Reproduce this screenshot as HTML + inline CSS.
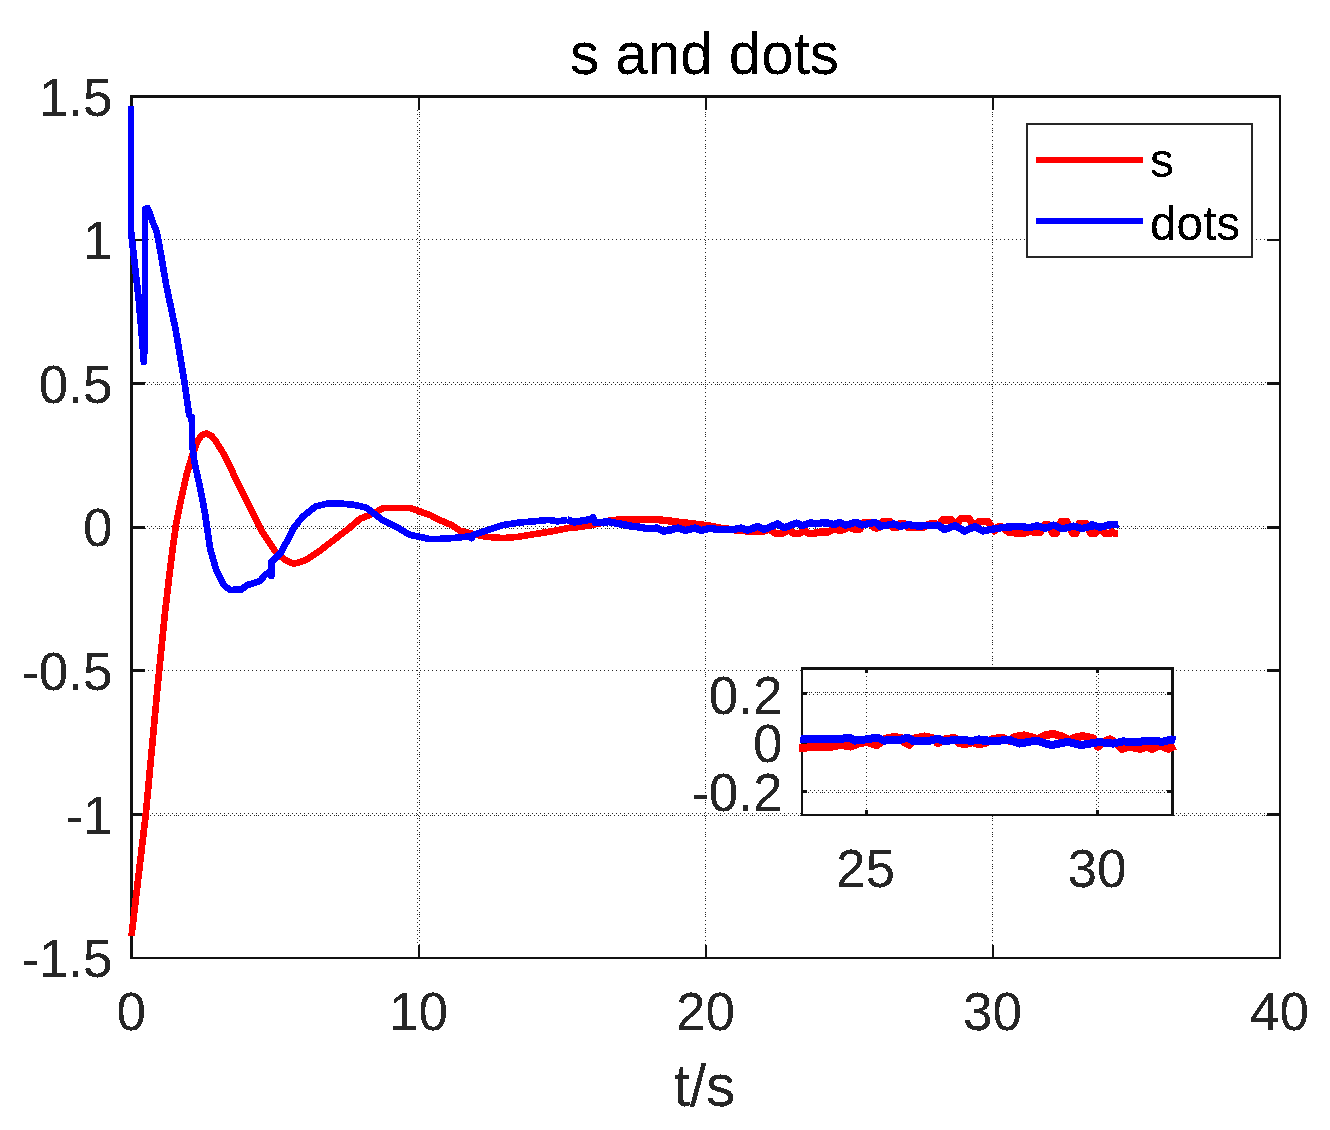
<!DOCTYPE html>
<html lang="en"><head><meta charset="utf-8"><title>s and dots</title>
<style>
html,body{margin:0;padding:0;background:#fff;}
body{width:1330px;height:1130px;overflow:hidden;}
svg{display:block;}
text{font-family:"Liberation Sans",sans-serif;fill:#262626;filter:url(#bin);}
.tk{font-size:53px;}
.big{font-size:58.3px;}
.lg{font-size:47.7px;fill:#000;}
.grid line{stroke:#262626;stroke-width:1;stroke-dasharray:1 3;shape-rendering:crispEdges;}
.crisp{shape-rendering:crispEdges;}
</style></head><body>
<svg width="1330" height="1130" viewBox="0 0 1330 1130">
<rect x="0" y="0" width="1330" height="1130" fill="#fff"/>
<defs><filter id="bin" x="-5%" y="-20%" width="110%" height="140%" color-interpolation-filters="sRGB"><feComponentTransfer><feFuncA type="discrete" tableValues="0 0 0 0 0 0 0 1 1 1 1 1 1 1 1 1"/></feComponentTransfer></filter></defs>
<g class="grid">
<line x1="419.5" y1="114" x2="419.5" y2="945" style="stroke-dasharray:1 15"/>
<line x1="705.5" y1="114" x2="705.5" y2="945" style="stroke-dasharray:1 15"/>
<line x1="992.5" y1="114" x2="992.5" y2="945" style="stroke-dasharray:1 15"/>
<line x1="157" y1="384.5" x2="1267" y2="384.5" style="stroke-dasharray:1 15"/>
<line x1="159" y1="528.5" x2="1267" y2="528.5" style="stroke-dasharray:1 15"/>
<line x1="160" y1="815.5" x2="1267" y2="815.5" style="stroke-dasharray:1 15"/>
<line x1="417.5" y1="110" x2="417.5" y2="945"/>
<line x1="419.5" y1="112" x2="419.5" y2="945"/>
<line x1="705.5" y1="112" x2="705.5" y2="945"/>
<line x1="992.5" y1="112" x2="992.5" y2="945"/>
<line x1="148" y1="239.5" x2="1267" y2="239.5"/>
<line x1="145" y1="382.5" x2="1267" y2="382.5"/>
<line x1="147" y1="384.5" x2="1267" y2="384.5"/>
<line x1="147" y1="526.5" x2="1267" y2="526.5"/>
<line x1="145" y1="528.5" x2="1267" y2="528.5"/>
<line x1="148" y1="670.5" x2="1267" y2="670.5"/>
<line x1="148" y1="813.5" x2="1267" y2="813.5"/>
<line x1="146" y1="815.5" x2="1267" y2="815.5"/>
</g>
<g class="crisp" fill="none" stroke="#111111" stroke-width="2.67" stroke-linecap="butt">
<rect x="131.80" y="96.50" width="1148.20" height="861.50"/>
<path d="M418.85 958.00V945.00M418.85 96.50V109.50M705.90 958.00V945.00M705.90 96.50V109.50M992.95 958.00V945.00M992.95 96.50V109.50M131.80 240.08H144.80M1280.00 240.08H1267.00M131.80 383.67H144.80M1280.00 383.67H1267.00M131.80 527.25H144.80M1280.00 527.25H1267.00M131.80 670.83H144.80M1280.00 670.83H1267.00M131.80 814.42H144.80M1280.00 814.42H1267.00"/>
</g>
<text class="tk" x="112.5" y="115.6" text-anchor="end">1.5</text>
<text class="tk" x="112.5" y="259.2" text-anchor="end">1</text>
<text class="tk" x="112.5" y="402.8" text-anchor="end">0.5</text>
<text class="tk" x="112.5" y="546.4" text-anchor="end">0</text>
<text class="tk" x="112.5" y="689.9" text-anchor="end">-0.5</text>
<text class="tk" x="112.5" y="833.5" text-anchor="end">-1</text>
<text class="tk" x="112.5" y="977.1" text-anchor="end">-1.5</text>
<text class="tk" x="131.3" y="1030" text-anchor="middle">0</text>
<text class="tk" x="418.4" y="1030" text-anchor="middle">10</text>
<text class="tk" x="705.4" y="1030" text-anchor="middle">20</text>
<text class="tk" x="992.5" y="1030" text-anchor="middle">30</text>
<text class="tk" x="1279.5" y="1030" text-anchor="middle">40</text>
<text class="big" x="704.5" y="73.5" text-anchor="middle" style="fill:#000">s and dots</text>
<text class="big" x="704.5" y="1105.5" text-anchor="middle">t/s</text>
<g class="crisp" fill="none" stroke-linejoin="round" stroke-linecap="butt">
<polyline stroke="#ff0000" stroke-width="6.67" points="131.5,936.0 138.5,876.0 145.7,815.0 152.5,742.0 158.0,682.5 161.3,650.0 165.0,612.5 168.8,580.0 172.5,550.0 176.3,522.5 181.5,497.5 186.5,475.0 192.3,455.0 198.0,440.0 202.0,435.0 206.3,433.5 211.0,435.5 215.0,440.0 225.0,456.0 237.5,482.5 250.0,507.5 262.5,532.5 275.0,551.0 285.0,560.0 293.8,563.8 305.0,560.5 317.5,552.5 332.5,541.0 350.0,527.5 360.0,518.8 372.5,513.8 383.8,508.0 410.0,508.0 430.0,515.0 441.3,520.8 450.7,524.6 460.1,530.6 473.2,534.0 486.4,536.8 503.3,538.1 518.3,536.8 535.3,534.0 552.2,531.2 569.1,528.0"/>
<polyline stroke="#ff0000" stroke-width="7.3" points="569.1,528.0 587.9,525.5 610.5,520.8 623.6,519.3 651.8,519.3 670.6,520.8 670.0,521.6 675.0,521.8 691.5,523.6 708.0,525.7 719.6,528.0 739.5,530.5 754.4,531.5 761.8,531.5 769.3,529.4 775.5,533.3 782.8,533.3 788.3,529.7 793.7,533.3 799.4,533.3 803.7,530.5 808.6,533.3 814.3,533.3 819.7,532.0 828.0,532.0 832.9,529.4 837.9,529.9 842.9,529.9 848.7,527.2 854.9,529.2 859.9,529.2 863.2,522.9 869.8,522.9 874.8,527.9 878.1,527.9 882.6,521.6 890.0,521.6 892.9,527.6 896.5,527.6 900.2,523.6 904.5,523.6 907.8,527.6 912.3,527.6 915.6,527.1 923.3,527.1 930.5,523.6 935.4,523.6 938.7,525.6 942.5,519.9 951.5,519.9 956.1,525.1 960.7,518.6 969.0,518.6 974.3,526.7 978.9,521.6 987.9,521.6 994.1,531.0 998.3,526.7 1003.2,527.2 1008.2,532.0 1012.3,532.0 1016.0,533.3 1024.3,533.3 1029.7,531.4 1034.7,532.3 1040.1,532.3 1044.6,524.6 1047.9,524.6 1052.9,533.3 1056.2,533.3 1061.1,521.6 1066.9,521.6 1072.7,533.3 1076.0,533.3 1079.3,523.3 1086.0,523.3 1090.9,533.3 1095.1,533.3 1100.0,528.4 1102.3,529.7 1104.8,533.3 1110.3,533.3 1112.4,532.0 1114.4,533.3 1118.4,533.3"/>
<polyline stroke="#0000ff" stroke-width="6.67" points="131.0,106.0 131.0,231.0 134.5,262.0 138.8,300.0 142.0,338.0 143.8,362.0 144.9,338.0 144.9,209.0 147.5,208.0 150.0,214.0 153.5,224.0 156.5,231.0 160.6,252.0 166.0,284.0 175.7,330.0 184.7,383.4 189.2,415.5 191.8,417.0 192.1,444.0 194.4,462.0 200.4,489.0 205.0,513.5 210.0,548.0 216.3,570.5 223.8,585.0 230.0,590.0 241.3,589.5 247.5,585.0 260.0,581.0 265.0,575.0 270.5,571.0 271.3,576.0 271.3,562.0 281.0,552.5 287.6,540.0 294.0,527.5 302.5,517.0 315.5,506.5 327.5,503.5 340.0,503.5 355.0,505.0 366.0,507.5 382.5,520.0 395.0,526.0 410.0,535.0 425.0,538.0 430.0,539.1 445.0,538.7 460.1,537.4 470.4,536.2 471.7,538.1 473.6,534.9 486.4,530.6 503.3,525.0 518.3,522.7 535.3,521.2 548.4,519.9 557.8,521.4 567.2,519.9"/>
<polyline stroke="#0000ff" stroke-width="7.3" points="567.2,519.9 574.7,522.1 590.7,519.3 592.8,517.8 595.4,522.7 608.6,521.8 623.6,524.6 633.0,526.5 642.4,527.4 646.2,528.7 657.4,528.0 663.1,531.2 672.5,529.8 670.0,529.7 678.3,528.0 684.9,530.5 694.8,528.0 701.4,530.5 709.7,528.4 719.6,529.7 732.9,529.7 741.1,528.0 747.8,530.2 757.7,526.4 764.3,529.4 777.5,523.9 784.1,527.7 796.6,523.1 802.3,525.6 810.6,522.8 815.6,523.9 822.2,522.8 828.8,523.1 833.8,524.7 839.6,522.3 845.4,525.1 856.1,522.3 861.9,525.1 875.1,522.3 880.1,525.6 880.0,526.4 894.1,523.9 899.9,526.4 908.9,524.7 918.0,526.1 928.0,525.6 937.9,525.1 944.5,529.5 955.3,525.6 964.4,531.2 975.1,526.4 982.6,531.0 994.1,528.9 1005.7,527.2 1020.6,526.4 1028.9,527.7 1037.2,525.6 1045.4,528.4 1053.7,525.1 1062.0,528.9 1073.5,526.1 1081.8,528.4 1092.6,526.1 1091.6,524.7 1099.9,527.2 1108.1,525.1 1118.4,524.2"/>
</g>
<g class="crisp">
<rect x="1027" y="124" width="225" height="132.5" fill="#fff" stroke="#262626" stroke-width="2"/>
<rect x="1036" y="157" width="107" height="6" fill="#ff0000"/>
<rect x="1036" y="218" width="107" height="6" fill="#0000ff"/>
</g>
<text class="lg" x="1150" y="177.3">s</text>
<text class="lg" x="1150" y="240">dots</text>
<rect x="801" y="667" width="373" height="149" fill="#fff"/>
<g class="grid">
<line x1="866.5" y1="672" x2="866.5" y2="814"/>
<line x1="1096.5" y1="672" x2="1096.5" y2="814"/>
<line x1="1098.5" y1="670" x2="1098.5" y2="814"/>
<line x1="803" y1="692.5" x2="1171" y2="692.5"/>
<line x1="805" y1="694.5" x2="1171" y2="694.5"/>
<line x1="803" y1="741.5" x2="1171" y2="741.5"/>
<line x1="805" y1="743.5" x2="1171" y2="743.5"/>
<line x1="806" y1="790.5" x2="1171" y2="790.5"/>
<line x1="804" y1="792.5" x2="1171" y2="792.5"/>
<line x1="809" y1="692.5" x2="1171" y2="692.5" style="stroke-dasharray:1 7"/>
<line x1="809" y1="741.5" x2="1171" y2="741.5" style="stroke-dasharray:1 7"/>
<line x1="806" y1="792.5" x2="1171" y2="792.5" style="stroke-dasharray:1 15"/>
</g>
<g class="crisp" fill="#111111">
<rect x="801" y="667" width="373" height="3"/>
<rect x="801" y="814" width="373" height="2"/>
<rect x="801" y="667" width="2" height="149"/>
<rect x="1171" y="667" width="3" height="149"/>
<rect x="865" y="670" width="3" height="3"/>
<rect x="865" y="810" width="3" height="4"/>
<rect x="1096" y="670" width="3" height="3"/>
<rect x="1096" y="810" width="3" height="4"/>
<rect x="803" y="692" width="4" height="3"/>
<rect x="1167" y="692" width="4" height="3"/>
<rect x="803" y="741" width="4" height="3"/>
<rect x="1167" y="741" width="4" height="3"/>
<rect x="803" y="790" width="4" height="3"/>
<rect x="1167" y="790" width="4" height="3"/>
</g>
<g class="crisp" fill="none" stroke-width="8" stroke-linejoin="round" stroke-linecap="butt">
<polyline stroke="#ff0000" points="799.2,747.8 810.0,747.4 825.1,747.4 832.6,746.6 840.1,744.8 850.6,746.6 859.7,742.9 867.2,742.1 877.0,745.1 885.2,738.8 892.7,737.3 900.3,737.6 903.3,741.4 909.3,744.8 915.3,738.3 924.3,736.5 933.3,738.3 937.9,743.3 945.4,739.1 954.4,737.9 958.9,742.9 964.9,744.4 972.4,742.1 980.0,744.4 989.0,740.6 985.0,742.9 992.5,739.1 1001.5,737.6 1009.1,740.6 1015.1,736.8 1024.1,735.3 1033.1,737.6 1037.6,739.1 1045.2,735.3 1052.7,733.8 1063.2,736.8 1069.2,740.6 1075.2,737.6 1082.7,736.1 1093.3,738.3 1097.8,746.6 1103.8,742.1 1109.8,739.4 1117.3,743.6 1121.8,748.9 1129.4,746.6 1139.9,748.9 1147.4,746.6 1151.9,748.9 1159.4,745.1 1168.5,748.9 1174.8,745.9"/>
<polyline stroke="#0000ff" points="800.4,738.8 810.0,739.4 825.1,739.4 840.1,739.1 849.1,737.6 855.2,740.6 865.7,739.4 877.7,737.6 883.7,740.6 900.3,739.8 907.8,737.6 913.8,741.4 930.3,740.6 937.9,738.8 943.9,740.9 960.4,739.8 972.4,740.9 978.5,739.4 990.5,740.9 985.0,741.4 1000.0,740.6 1009.1,739.8 1019.6,743.6 1036.1,740.6 1051.2,745.1 1067.7,741.8 1081.2,745.1 1099.3,742.1 1112.8,743.6 1123.3,741.4 1135.4,742.1 1150.4,740.6 1162.4,741.8 1171.5,739.4 1175.2,740.6"/>
</g>
<text class="tk" x="782.5" y="713.7" text-anchor="end">0.2</text>
<text class="tk" x="782.5" y="761.5" text-anchor="end">0</text>
<text class="tk" x="782.5" y="811.0" text-anchor="end">-0.2</text>
<text class="tk" x="865.5" y="887" text-anchor="middle">25</text>
<text class="tk" x="1097" y="887" text-anchor="middle">30</text>
</svg>
</body></html>
